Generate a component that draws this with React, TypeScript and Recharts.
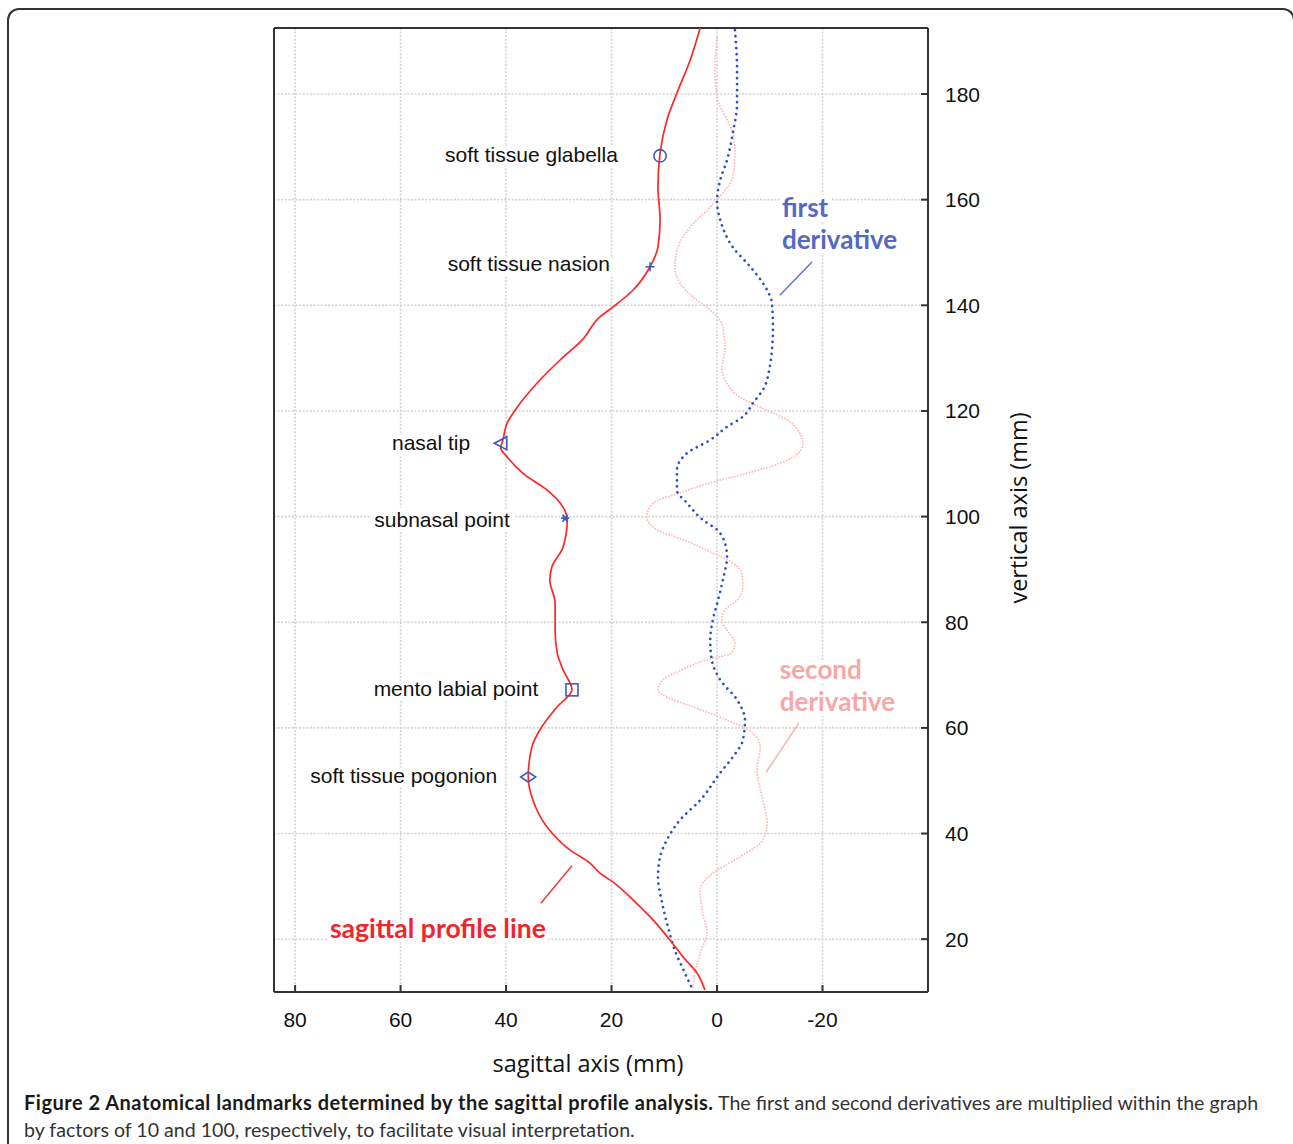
import React from 'react'
import { ScatterChart, Scatter, XAxis, YAxis, CartesianGrid, ReferenceLine } from 'recharts'

// sagittal profile line, read from top (forehead) to bottom (chin)
const PROFILE_X = [3.2, 5.1, 7.6, 9.5, 10.8, 11.2, 10.8, 11.2, 12.7, 15.9, 19.7, 22.2, 25.6, 29.8, 34.1, 37.9, 39.8, 40.6, 41.0, 39.8, 36.8, 32.2, 29.2, 28.4, 29.2, 31.3, 31.7, 30.7, 30.7, 30.3, 29.2, 27.5, 30.3, 33.6, 35.1, 35.8, 34.9, 32.2, 27.9, 24.1, 22.2, 19.7, 15.9, 12.1, 8.9, 6.4, 3.8, 2.3]
const PROFILE_Y = [192.5, 186.4, 180.2, 175.1, 168.8, 162.4, 156.2, 151.0, 147.3, 142.9, 139.7, 137.8, 133.4, 129.6, 125.3, 120.7, 117.7, 114.5, 113.0, 111.3, 108.2, 105.0, 101.8, 99.4, 94.2, 90.5, 88.0, 83.6, 78.5, 74.2, 71.0, 67.2, 64.0, 59.6, 56.4, 50.7, 46.3, 41.2, 36.9, 34.4, 32.5, 30.8, 27.4, 23.6, 19.8, 16.6, 13.6, 10.4]

// first derivative (x10)
const FIRST_X = [-3.4, -3.8, -3.8, -3.0, -1.9, -0.6, 0.0, -0.6, -3.0, -6.3, -8.7, -10.4, -10.6, -10.4, -10.0, -8.7, -6.8, -4.9, -1.9, 1.3, 5.7, 7.6, 7.6, 5.7, 2.7, 0.0, -1.5, -1.9, -1.1, -0.2, 0.8, 1.3, 1.0, -0.6, -3.8, -5.3, -4.9, -3.0, -0.6, 3.2, 7.0, 9.5, 10.8, 11.2, 10.4, 9.3, 8.0, 6.1, 4.6]
const FIRST_Y = [192.1, 184.5, 178.3, 172.6, 167.5, 163.7, 159.6, 156.2, 151.0, 147.3, 144.2, 140.4, 135.9, 131.5, 128.3, 124.0, 121.5, 118.9, 117.0, 114.5, 112.0, 108.8, 105.0, 102.6, 99.4, 97.5, 95.0, 92.4, 88.0, 84.2, 80.4, 76.6, 72.9, 69.1, 65.3, 61.5, 57.7, 54.5, 51.5, 46.3, 42.6, 38.8, 35.6, 31.8, 26.8, 22.3, 17.9, 13.6, 10.4]

// second derivative (x100)
const SECOND_X = [0.0, 0.4, 0.0, -1.9, -3.0, -3.4, -3.0, -1.1, 1.3, 5.1, 7.4, 8.0, 7.0, 4.6, 1.3, -1.1, -1.5, -0.9, -1.5, -4.4, -8.2, -13.3, -15.7, -16.3, -15.4, -11.9, -5.7, 1.3, 7.0, 12.1, 13.3, 11.4, 6.4, 0.8, -3.0, -4.7, -4.9, -3.8, -1.5, -0.9, -1.9, -3.4, -2.8, 1.9, 6.2, 10.2, 11.2, 9.5, 4.6, -1.9, -6.8, -8.2, -7.6, -8.7, -9.5, -8.7, -4.4, 0.8, 3.2, 2.7, 1.9, 3.2, 4.2, 4.6]
const SECOND_Y = [190.8, 184.5, 179.4, 175.1, 172.6, 168.8, 164.3, 161.3, 158.6, 154.8, 151.0, 147.3, 144.2, 141.6, 139.1, 135.9, 131.5, 128.3, 125.9, 122.6, 120.7, 118.3, 115.8, 113.9, 112.0, 110.1, 108.2, 106.4, 104.5, 102.6, 99.9, 97.5, 95.6, 93.1, 91.2, 89.3, 86.7, 84.2, 82.3, 80.4, 78.5, 76.1, 74.2, 72.9, 71.2, 69.1, 67.2, 65.8, 64.0, 61.5, 59.0, 56.4, 52.0, 46.3, 42.0, 38.8, 35.6, 32.5, 29.3, 24.9, 21.2, 17.4, 13.6, 10.4]

const LANDMARK_NAMES = ['soft tissue glabella', 'soft tissue nasion', 'nasal tip', 'subnasal point', 'mento labial point', 'soft tissue pogonion']
const LANDMARK_X = [10.8, 12.7, 41.0, 28.8, 27.5, 35.8]
const LANDMARK_Y = [168.3, 147.3, 113.9, 99.7, 67.2, 50.7]
// where each landmark name ends (right edge of the text)
const LABEL_END_X = [18.8, 20.3, 46.8, 39.3, 33.9, 41.7]
const LABEL_Y = [168.6, 148.0, 114.1, 99.5, 67.4, 50.9]

const NOTE_TEXT = [['first', 'derivative'], ['second', 'derivative'], ['sagittal profile line']]
const NOTE_X = [-12.3, -11.9, 73.4]
const NOTE_Y = [158.6, 71.1, 22.1]
const LEADERS = [
  [-11.9, 141.9, -18.0, 148.2],
  [-9.3, 51.6, -15.5, 60.9],
  [33.4, 26.8, 27.5, 33.9],
]

const X_TICKS = [80, 60, 40, 20, 0, -20]
const Y_TICKS = [20, 40, 60, 80, 100, 120, 140, 160, 180]

const RED = '#ff2626'
const BLUE = '#2f4fc2'
const PINK = '#ffb3b3'
const MARK = '#3a5cc0'
const AXIS = '#333'
const NOTE_COLORS = ['#5369c6', '#f8a6a6', '#f0262c']
const NOTE_SIZES = [26, 26, 26.5]
const LEADER_COLORS = ['#6078cc', '#f8b2b2', '#f23a3a']
const MARKER_KINDS = ['circle', 'plus', 'triangle', 'asterisk', 'square', 'diamond']

const FONT = '"Liberation Sans", Arial, sans-serif'

const zip = (xs: number[], ys: number[]) => xs.map((x, i) => ({ x, y: ys[i] }))

const profileData = zip(PROFILE_X, PROFILE_Y)
const firstData = zip(FIRST_X, FIRST_Y)
const secondData = zip(SECOND_X, SECOND_Y)
const landmarkData = LANDMARK_X.map((x, i) => ({ x, y: LANDMARK_Y[i], kind: MARKER_KINDS[i] }))
const labelData = LABEL_END_X.map((x, i) => ({ x, y: LABEL_Y[i], name: LANDMARK_NAMES[i] }))
const noteData = NOTE_X.map((x, i) => ({ x, y: NOTE_Y[i], lines: NOTE_TEXT[i], color: NOTE_COLORS[i], size: NOTE_SIZES[i] }))

const Marker = (props: any) => {
  const { cx, cy, payload } = props
  const p = { fill: 'none', stroke: MARK, strokeWidth: 1.6 }
  switch (payload.kind) {
    case 'circle':
      return <circle cx={cx} cy={cy} r={6.2} {...p} />
    case 'plus':
      return <path d={`M${cx - 4.5},${cy}H${cx + 4.5}M${cx},${cy - 4.5}V${cy + 4.5}`} {...p} />
    case 'triangle':
      return <path d={`M${cx - 6.5},${cy}L${cx + 6},${cy - 6.5}L${cx + 6},${cy + 6.5}Z`} {...p} />
    case 'asterisk':
      return (
        <path
          d={`M${cx - 4},${cy}H${cx + 4}M${cx - 2.5},${cy - 3.5}L${cx + 2.5},${cy + 3.5}M${cx - 2.5},${cy + 3.5}L${cx + 2.5},${cy - 3.5}`}
          {...p}
          strokeWidth={1.8}
        />
      )
    case 'square':
      return <rect x={cx - 6} y={cy - 6} width={12} height={12} {...p} />
    default:
      return <path d={`M${cx - 7.5},${cy}L${cx},${cy - 5}L${cx + 7.5},${cy}L${cx},${cy + 5}Z`} {...p} />
  }
}

const LandmarkLabel = (props: any) => {
  const { cx, cy, payload } = props
  return (
    <text
      x={cx}
      y={cy}
      textAnchor="end"
      dominantBaseline="central"
      fontFamily={FONT}
      fontSize={21}
      fill="#111"
      stroke="#fff"
      strokeWidth={9}
      strokeLinejoin="round"
      paintOrder="stroke"
    >
      {payload.name}
    </text>
  )
}

const Note = (props: any) => {
  const { cx, cy, payload } = props
  return (
    <text
      x={cx}
      y={cy}
      dominantBaseline="central"
      fontFamily="Lato, sans-serif"
      fontWeight={700}
      fontSize={payload.size}
      fill={payload.color}
      stroke="#fff"
      strokeWidth={9}
      strokeLinejoin="round"
      paintOrder="stroke"
    >
      {payload.lines.map((t: string, i: number) => (
        <tspan key={t} x={cx} dy={i === 0 ? 0 : 32}>
          {t}
        </tspan>
      ))}
    </text>
  )
}

const BottomTick = ({ x, y, payload }: any) => (
  <g>
    <line x1={x} y1={y} x2={x} y2={y - 7} stroke={AXIS} strokeWidth={2} />
    <text x={x} y={y + 27} textAnchor="middle" dominantBaseline="central" fontFamily={FONT} fontSize={21} fill="#111">
      {payload.value}
    </text>
  </g>
)

const TopTick = ({ x, y }: any) => <line x1={x} y1={y} x2={x} y2={y + 7} stroke={AXIS} strokeWidth={2} />

const RightTick = ({ x, y, payload }: any) => (
  <g>
    <line x1={x} y1={y} x2={x - 7} y2={y} stroke={AXIS} strokeWidth={2} />
    <text x={x + 17} y={y} dominantBaseline="central" fontFamily={FONT} fontSize={21} fill="#111">
      {payload.value}
    </text>
  </g>
)

const LeftTick = ({ x, y }: any) => <line x1={x} y1={y} x2={x + 7} y2={y} stroke={AXIS} strokeWidth={2} />

const hidden = () => null

export default function App() {
  return (
    <div style={{ position: 'absolute', left: 0, top: 0, width: 1293, height: 1144, overflow: 'hidden', background: '#fff' }}>
      {/* figure frame */}
      <div
        style={{
          position: 'absolute',
          left: 7,
          top: 8,
          width: 1288,
          height: 1150,
          border: '2px solid #333',
          borderBottom: 'none',
          borderTopLeftRadius: 12,
          borderTopRightRadius: 12,
          boxSizing: 'border-box',
        }}
      />

      <div style={{ position: 'absolute', left: 0, top: 0 }}>
        <ScatterChart width={1293} height={1144} margin={{ top: 27, right: 255, bottom: 92, left: 273 }}>
          <CartesianGrid stroke="#d2d2d2" strokeWidth={1.6} strokeDasharray="2 1.6" />
          <XAxis
            type="number"
            dataKey="x"
            domain={[-40, 84]}
            reversed
            ticks={X_TICKS}
            height={60}
            tickSize={0}
            tickMargin={0}
            tickLine={false}
            axisLine={{ stroke: AXIS, strokeWidth: 2 }}
            tick={<BottomTick />}
            interval={0}
          />
          <XAxis
            xAxisId="top"
            orientation="top"
            type="number"
            dataKey="x"
            domain={[-40, 84]}
            reversed
            ticks={X_TICKS}
            height={1}
            tickSize={0}
            tickMargin={0}
            tickLine={false}
            axisLine={{ stroke: AXIS, strokeWidth: 2 }}
            tick={<TopTick />}
            interval={0}
          />
          <YAxis
            type="number"
            dataKey="y"
            orientation="right"
            domain={[10, 192.5]}
            ticks={Y_TICKS}
            width={110}
            tickSize={0}
            tickMargin={0}
            tickLine={false}
            axisLine={{ stroke: AXIS, strokeWidth: 2 }}
            tick={<RightTick />}
            interval={0}
          />
          <YAxis
            yAxisId="left"
            orientation="left"
            type="number"
            dataKey="y"
            domain={[10, 192.5]}
            ticks={Y_TICKS}
            width={1}
            tickSize={0}
            tickMargin={0}
            tickLine={false}
            axisLine={{ stroke: AXIS, strokeWidth: 2 }}
            tick={<LeftTick />}
            interval={0}
          />

          <Scatter data={labelData} shape={<LandmarkLabel />} isAnimationActive={false} />
          <Scatter data={noteData} shape={<Note />} isAnimationActive={false} />

          {LEADERS.map((s, i) => (
            <ReferenceLine
              key={i}
              segment={[
                { x: s[0], y: s[1] },
                { x: s[2], y: s[3] },
              ]}
              stroke={LEADER_COLORS[i]}
              strokeWidth={1.5}
            />
          ))}

          <Scatter
            data={secondData}
            line={{ stroke: PINK, strokeWidth: 1.6, strokeDasharray: '1.6 1.4' }}
            lineJointType="monotoneY"
            shape={hidden}
            isAnimationActive={false}
          />
          <Scatter
            data={firstData}
            line={{ stroke: BLUE, strokeWidth: 2.7, strokeDasharray: '0.01 6', strokeLinecap: 'round' }}
            lineJointType="monotoneY"
            shape={hidden}
            isAnimationActive={false}
          />
          <Scatter
            data={profileData}
            line={{ stroke: RED, strokeWidth: 1.7 }}
            lineJointType="monotoneY"
            shape={hidden}
            isAnimationActive={false}
          />
          <Scatter data={landmarkData} shape={<Marker />} isAnimationActive={false} />
        </ScatterChart>
      </div>

      {/* axis titles */}
      <div
        style={{
          position: 'absolute',
          left: 588,
          top: 1063,
          transform: 'translate(-50%, -50%)',
          fontFamily: '"Open Sans", sans-serif',
          fontSize: 23.5,
          color: '#111',
          whiteSpace: 'nowrap',
        }}
      >
        sagittal axis (mm)
      </div>
      <div
        style={{
          position: 'absolute',
          left: 1018,
          top: 508,
          transform: 'translate(-50%, -50%) rotate(-90deg)',
          fontFamily: '"Open Sans", sans-serif',
          fontSize: 23.5,
          color: '#111',
          whiteSpace: 'nowrap',
        }}
      >
        vertical axis (mm)
      </div>

      {/* caption */}
      <div
        style={{
          position: 'absolute',
          left: 24,
          top: 1089,
          fontFamily: 'Lato, sans-serif',
          fontSize: 19.6,
          lineHeight: '27px',
          color: '#333',
          whiteSpace: 'nowrap',
        }}
      >
        <span style={{ fontWeight: 700, color: '#1a1a1a', fontSize: 20, letterSpacing: 0.5 }}>
          Figure 2 Anatomical landmarks determined by the sagittal profile analysis.
        </span>{' '}
        The first and second derivatives are multiplied within the graph
        <br />
        by factors of 10 and 100, respectively, to facilitate visual interpretation.
      </div>
    </div>
  )
}
